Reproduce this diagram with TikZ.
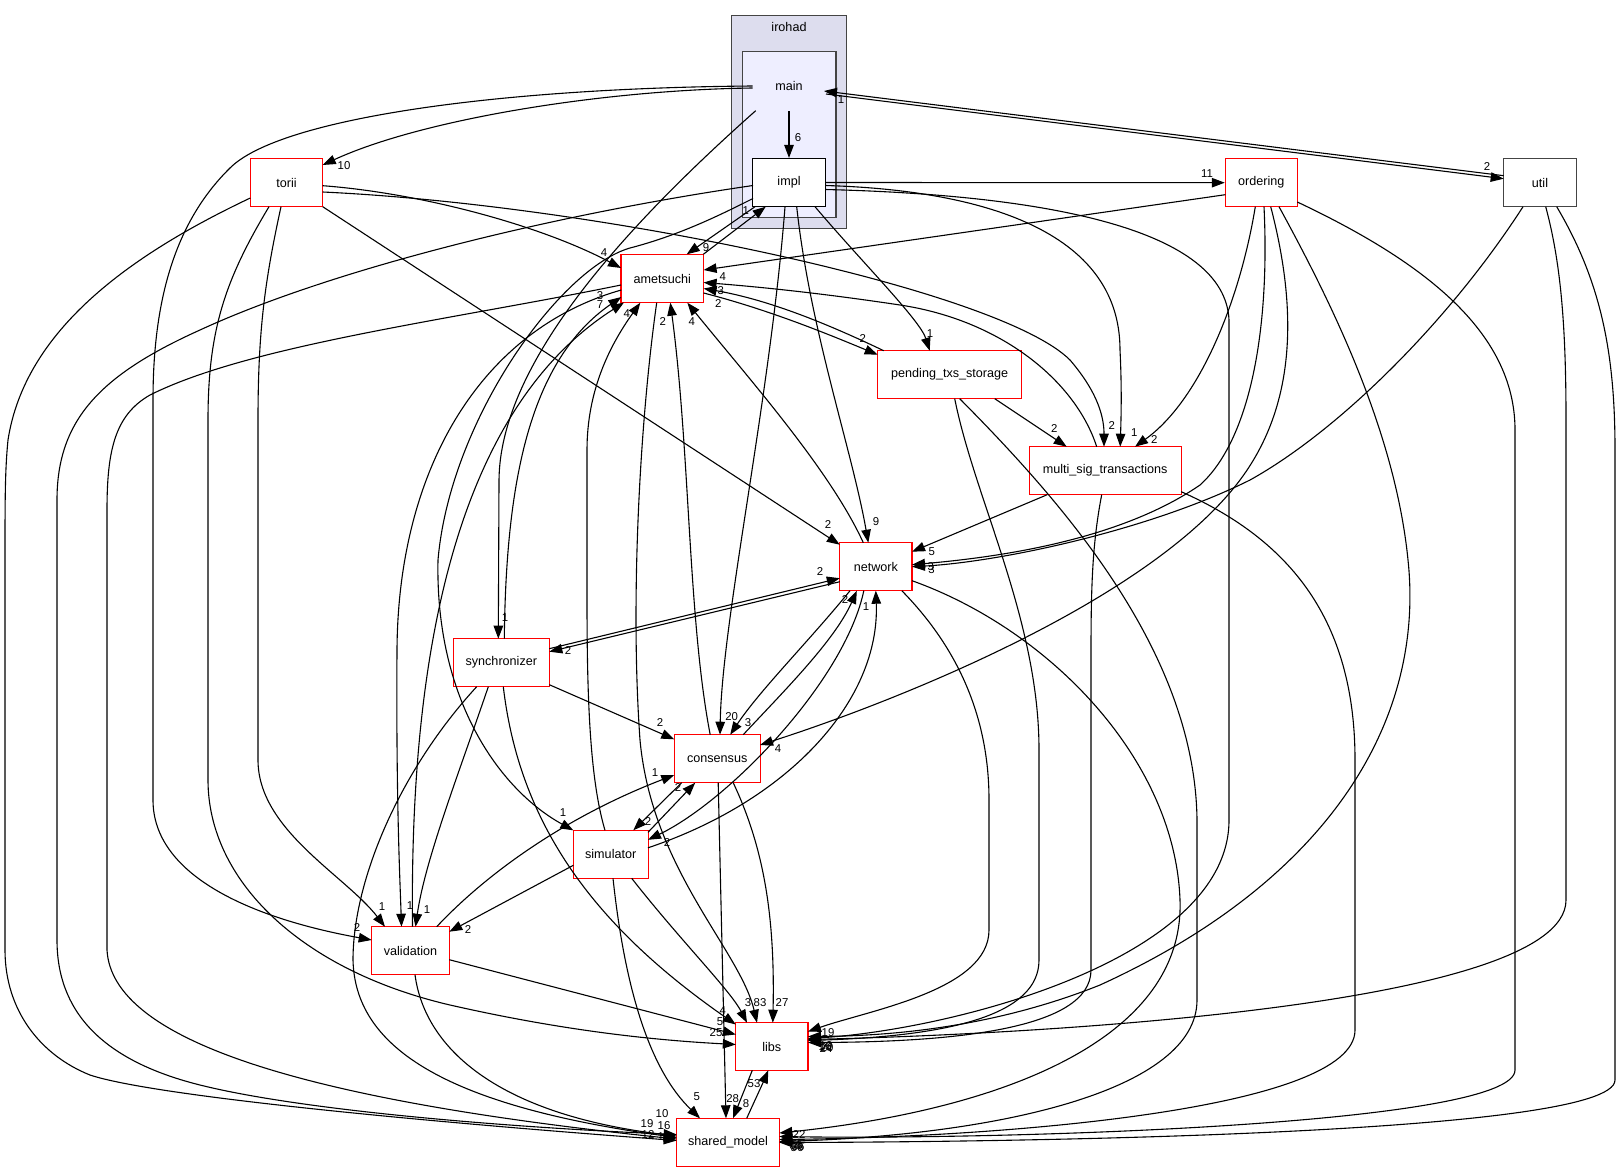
\documentclass[tikz,border=0pt]{standalone}
\usepackage{fontspec}
\setmainfont{Liberation Sans}
\usetikzlibrary{arrows.meta,calc}
\definecolor{clA}{HTML}{DDDDEE}
\definecolor{clB}{HTML}{EEEEFF}
\definecolor{gbord}{HTML}{444444}
\tikzset{
  dirbox/.style={draw=red, line width=1.1pt, fill=white, minimum height=48pt, inner sep=0pt, font=\fontsize{12.6}{15}\selectfont},
  dep/.style={draw=black, line width=1.1pt, -{Triangle[length=13pt,width=9.5pt]}},
  lbl/.style={inner sep=0pt, font=\fontsize{11.4}{13}\selectfont},
}
\begin{document}
\begin{tikzpicture}[x=1pt,y=-1pt]
\useasboundingbox (0,0) rectangle (1621,1172);
\fill[white] (0,0) rectangle (1621,1172);
% clusters
\filldraw[fill=clA, draw=gbord, line width=1.1pt] (731.7,15.7) rectangle (846.7,228.3);
\filldraw[fill=clB, draw=gbord, line width=1.1pt] (742.7,51.7) rectangle (836,217.3);
\node[lbl,font=\fontsize{12.6}{15}\selectfont] (irohadlbl) at (789,27) {irohad};
\node[inner sep=0pt,font=\fontsize{12.6}{15}\selectfont] (main) at (789,86) {main};
% nodes
\node[dirbox,draw=black,minimum width=72.3pt] (impl) at (789,182.5) {impl};
\node[dirbox,minimum width=72.4pt] (torii) at (286.5,182.7) {torii};
\node[dirbox,minimum width=72pt] (ordering) at (1261.3,182.7) {ordering};
\node[dirbox,draw=gbord,minimum width=72.3pt] (util) at (1540,182.7) {util};
\node[dirbox,minimum width=82.7pt] (ametsuchi) at (662.3,278.5) {ametsuchi};
\node[dirbox,minimum width=144pt] (pending) at (949.7,374.7) {pending\_txs\_storage};
\node[dirbox,minimum width=152.3pt] (multisig) at (1105.2,470.7) {multi\_sig\_transactions};
\node[dirbox,minimum width=72.3pt] (network) at (875.8,566.7) {network};
\node[dirbox,minimum width=96pt] (sync) at (501.3,662.7) {synchronizer};
\node[dirbox,minimum width=85.7pt] (consensus) at (717.2,758.7) {consensus};
\node[dirbox,minimum width=74.7pt] (simulator) at (610.7,854.3) {simulator};
\node[dirbox,minimum width=77.6pt] (validation) at (410.5,950.7) {validation};
\node[dirbox,minimum width=72.3pt] (libs) at (771.8,1046.5) {libs};
\node[dirbox,minimum width=102.6pt] (shared) at (728,1142.5) {shared\_model};

% ---------- edges ----------
% main
\draw[dep] ($(main)+(0,25)$) -- (impl.north);
\draw[dep] ($(main)+(37,8)$) -- ($(util)+(-36.3,-4)$);
\draw[dep] ($(util)+(-36.3,-7)$) -- ($(main)+(35,5)$);
\draw[dep] ($(main)+(-36.3,2)$) .. controls (600,90) and (420,120) .. ($(torii)+(36.2,-17.7)$);
\draw[dep] ($(main)+(-36.3,0)$) .. controls (500,88) and (280,118) .. (230,168) .. controls (175,222) and (153,300) .. (153,400) -- (153,800) .. controls (153,875) and (250,918) .. ($(validation)+(-38.8,-10.7)$);
\draw[dep] ($(main)+(-33.3,24.7)$) .. controls (610,240) and (500,370) .. (499,480) -- ($(sync)+(-3,-24)$);
% impl
\draw[dep] (impl.east) -- (ordering.west);
\draw[dep] ($(impl)+(-34,24.2)$) -- ($(ametsuchi)+(24.4,-24.2)$);
\draw[dep] ($(ametsuchi)+(41,-24.2)$) -- ($(impl)+(-23.3,24.2)$);
\draw[dep] ($(impl)+(-36,16)$) .. controls (720,215) and (680,235) .. (630,248) .. controls (560,268) and (450,420) .. (438,560) .. controls (435,700) and (500,790) .. ($(simulator)+(-37.4,-24)$);
\draw[dep] ($(impl)+(-36,3)$) .. controls (550,215) and (330,270) .. (200,330) .. controls (100,375) and (57,420) .. (57,500) -- (57,940) .. controls (57,1010) and (100,1060) .. (200,1085) .. controls (300,1110) and (500,1127) .. ($(shared)+(-51.3,-8)$);
\draw[dep] ($(impl)+(-4,24.2)$) .. controls (770,400) and (722,620) .. ($(consensus)+(2.8,-24)$);
\draw[dep] ($(impl)+(7.7,24.2)$) .. controls (810,330) and (852,450) .. ($(network)+(-7.5,-24)$);
\draw[dep] ($(impl)+(26,24.2)$) .. controls (860,260) and (920,320) .. ($(pending)+(-20,-24)$);
\draw[dep] ($(impl)+(36.3,3)$) .. controls (980,190) and (1120,230) .. (1120,350) .. controls (1122,390) and (1121,420) .. ($(multisig)+(15,-24)$);
\draw[dep] ($(impl)+(36.3,7)$) .. controls (1050,195) and (1225,230) .. (1229,320) -- (1229,820) .. controls (1229,960) and (950,1030) .. ($(libs)+(36.2,-8)$);
% torii
\draw[dep] ($(torii)+(36.2,3)$) .. controls (420,193) and (540,225) .. ($(ametsuchi)+(-41.3,-10.5)$);
\draw[dep] ($(torii)+(36.2,9.3)$) .. controls (600,205) and (1000,290) .. (1070,360) .. controls (1100,395) and (1104,420) .. ($(multisig)+(-1.2,-24)$);
\draw[dep] ($(torii)+(36.2,24)$) -- ($(network)+(-36,-22)$);
\draw[dep] ($(torii)+(-5.5,24)$) .. controls (265,280) and (258,330) .. (258,420) -- (258,760) .. controls (258,830) and (345,875) .. ($(validation)+(-25.5,-24)$);
\draw[dep] ($(torii)+(-17.5,24)$) .. controls (225,280) and (208,330) .. (208,420) -- (208,780) .. controls (208,880) and (300,970) .. (450,1005) .. controls (560,1030) and (650,1040) .. ($(libs)+(-36,-2)$);
\draw[dep] ($(torii)+(-36.2,15.3)$) .. controls (130,255) and (25,330) .. (8,440) .. controls (5,470) and (5,500) .. (5,560) -- (5,950) .. controls (5,1010) and (40,1055) .. (90,1075) .. controls (150,1095) and (400,1120) .. ($(shared)+(-51.3,-2)$);
% ametsuchi
\draw[dep] ($(ametsuchi)+(-41,11.5)$) .. controls (480,330) and (398,470) .. (397,650) .. controls (396,800) and (400,880) .. ($(validation)+(-9,-24)$);
\draw[dep] ($(ametsuchi)+(41.3,14.5)$) .. controls (770,310) and (830,335) .. ($(pending)+(-72,-20)$);
\draw[dep] ($(ametsuchi)+(-41.3,6.5)$) .. controls (450,320) and (250,345) .. (150,395) .. controls (115,415) and (107,450) .. (107,510) -- (107,950) .. controls (112,1040) and (300,1100) .. ($(shared)+(-51.3,-3.5)$);
\draw[dep] ($(ametsuchi)+(-5.6,24.2)$) .. controls (640,420) and (630,600) .. (640,740) .. controls (652,870) and (740,950) .. ($(libs)+(-14.8,-23.8)$);
% synchronizer
\draw[dep] ($(sync)+(3,-24)$) .. controls (506,480) and (530,360) .. ($(ametsuchi)+(-41,18.5)$);
\draw[dep] ($(sync)+(48,-14)$) -- ($(network)+(-36,11.5)$);
\draw[dep] ($(network)+(-36,15)$) -- ($(sync)+(48,-11)$);
\draw[dep] ($(sync)+(48,22)$) -- ($(consensus)+(-42.9,-19.4)$);
\draw[dep] ($(sync)+(-13,24)$) .. controls (460,770) and (425,860) .. ($(validation)+(5,-24)$);
\draw[dep] ($(sync)+(-24.6,24)$) .. controls (400,770) and (353,880) .. (353,960) .. controls (355,1045) and (440,1105) .. ($(shared)+(-51.3,-5)$);
\draw[dep] ($(sync)+(2,24)$) .. controls (520,830) and (600,930) .. ($(libs)+(-36,-22)$);
% validation
\draw[dep] ($(validation)+(2,-24)$) .. controls (410,700) and (440,420) .. ($(ametsuchi)+(-38.3,24)$);
\draw[dep] ($(validation)+(26.2,-24)$) .. controls (490,870) and (570,815) .. ($(consensus)+(-42.9,16.3)$);
\draw[dep] ($(validation)+(38.8,9)$) -- ($(libs)+(-36,-12)$);
\draw[dep] ($(validation)+(4.5,24)$) .. controls (425,1050) and (500,1115) .. ($(shared)+(-51.3,-6.5)$);
% pending
\draw[dep] ($(pending)+(-66,-24)$) .. controls (830,325) and (770,300) .. ($(ametsuchi)+(41.3,10)$);
\draw[dep] ($(pending)+(45,24)$) -- ($(multisig)+(-38.5,-24)$);
\draw[dep] ($(pending)+(5,24)$) .. controls (975,500) and (1039,620) .. (1039,750) -- (1039,960) .. controls (1039,1015) and (950,1036) .. ($(libs)+(36.2,-6)$);
\draw[dep] ($(pending)+(10,24)$) .. controls (1060,500) and (1195,650) .. (1197,820) -- (1197,1000) .. controls (1197,1090) and (1000,1135) .. ($(shared)+(51.3,-1)$);
% multisig
\draw[dep] ($(multisig)+(-8.5,-24)$) .. controls (1075,380) and (1000,320) .. (900,305) .. controls (820,293) and (760,287) .. ($(ametsuchi)+(41.3,4)$);
\draw[dep] ($(multisig)+(-58,24)$) -- ($(network)+(36.2,-15)$);
\draw[dep] ($(multisig)+(-3.5,24)$) .. controls (1093,540) and (1091,580) .. (1091,650) -- (1091,970) .. controls (1091,1030) and (950,1042) .. ($(libs)+(36.2,-4)$);
\draw[dep] ($(multisig)+(76,21)$) .. controls (1290,540) and (1355,620) .. (1355,760) -- (1355,1030) .. controls (1355,1110) and (1000,1137) .. ($(shared)+(51.3,-3)$);
% ordering
\draw[dep] ($(ordering)+(-36,12)$) -- ($(ametsuchi)+(41.3,-8.5)$);
\draw[dep] ($(ordering)+(-6,24)$) .. controls (1240,300) and (1200,400) .. ($(multisig)+(29.8,-24)$);
\draw[dep] ($(ordering)+(2.7,24)$) .. controls (1270,330) and (1250,440) .. (1200,485) .. controls (1120,540) and (1000,557) .. ($(network)+(36.2,-2)$);
\draw[dep] ($(ordering)+(9.4,24)$) .. controls (1295,300) and (1300,400) .. (1240,480) .. controls (1150,600) and (900,700) .. ($(consensus)+(42.8,-13.7)$);
\draw[dep] ($(ordering)+(17.7,24)$) .. controls (1330,300) and (1395,430) .. (1408,560) .. controls (1425,720) and (1330,880) .. (1100,985) .. controls (1000,1025) and (900,1036) .. ($(libs)+(36.2,-10)$);
\draw[dep] ($(ordering)+(36,19.3)$) .. controls (1420,260) and (1515,330) .. (1515,430) -- (1515,1070) .. controls (1515,1125) and (1000,1140) .. ($(shared)+(51.3,-6)$);
% util
\draw[dep] ($(util)+(-17,24)$) .. controls (1450,320) and (1340,430) .. (1250,480) .. controls (1150,530) and (1000,562) .. ($(network)+(36.2,0)$);
\draw[dep] ($(util)+(5.7,24)$) .. controls (1560,260) and (1566,320) .. (1566,420) -- (1566,900) .. controls (1566,1010) and (1000,1035) .. ($(libs)+(36.2,-7)$);
\draw[dep] ($(util)+(16.7,24)$) .. controls (1600,280) and (1615,350) .. (1615,450) -- (1615,1080) .. controls (1615,1135) and (1000,1142) .. ($(shared)+(51.3,0)$);
% network
\draw[dep] ($(network)+(26,24)$) .. controls (960,650) and (989,720) .. (989,800) -- (989,930) .. controls (989,990) and (870,1010) .. ($(libs)+(36.2,-15)$);
\draw[dep] ($(network)+(36.2,14)$) .. controls (1050,630) and (1175,760) .. (1180,900) .. controls (1185,1040) and (1000,1110) .. ($(shared)+(51.3,-9.5)$);
\draw[dep] ($(network)+(-12.5,-24)$) .. controls (830,470) and (750,380) .. ($(ametsuchi)+(25,24.2)$);
\draw[dep] ($(network)+(-25.8,24)$) .. controls (810,640) and (760,690) .. ($(consensus)+(13,-24)$);
\draw[dep] ($(network)+(-12,24)$) .. controls (845,680) and (730,800) .. ($(simulator)+(37.3,-14.5)$);
% consensus
\draw[dep] ($(consensus)+(26,-24)$) .. controls (785,690) and (835,640) .. ($(network)+(-19,24)$);
\draw[dep] ($(consensus)+(-7,-24)$) .. controls (688,620) and (690,450) .. ($(ametsuchi)+(8,24.2)$);
\draw[dep] ($(consensus)+(16,24)$) .. controls (765,850) and (775,920) .. ($(libs)+(1,-23.8)$);
\draw[dep] ($(consensus)+(1,24)$) -- ($(shared)+(-2,-24.2)$);
\draw[dep] ($(consensus)+(-35.5,24)$) -- ($(simulator)+(22.6,-24)$);
% simulator
\draw[dep] ($(simulator)+(37.3,-22)$) -- ($(consensus)+(-22,24)$);
\draw[dep] ($(simulator)+(37.3,-6.5)$) .. controls (790,800) and (880,700) .. ($(network)+(0,24)$);
\draw[dep] ($(simulator)+(-5.7,-24)$) .. controls (590,780) and (587,700) .. (587,600) -- (587,450) .. controls (587,390) and (610,345) .. ($(ametsuchi)+(-22,24.2)$);
\draw[dep] ($(simulator)+(-37.4,11)$) -- ($(validation)+(38.8,-19)$);
\draw[dep] ($(simulator)+(21,24)$) .. controls (680,940) and (730,990) .. ($(libs)+(-24.8,-23.8)$);
\draw[dep] ($(simulator)+(2.3,24)$) .. controls (625,990) and (650,1070) .. ($(shared)+(-28,-24.2)$);
% libs / shared_model
\draw[dep] ($(libs)+(-19.5,23.8)$) -- ($(shared)+(5,-24.2)$);
\draw[dep] ($(shared)+(18.7,-24.2)$) .. controls (755,1100) and (762,1085) .. ($(libs)+(-3.5,23.8)$);

% ---------- labels ----------
\node[lbl] (la1) at (798,138) {6};
\node[lbl] (la2) at (1487,167) {2};
\node[lbl] (la3) at (841,100) {1};
\node[lbl] (la4) at (344,166) {10};
\node[lbl] (la5) at (357,928) {2};
\node[lbl] (la6) at (505,618) {1};
\node[lbl] (la7) at (600,296) {3};
\node[lbl] (la8) at (600,305) {7};
\node[lbl] (la9) at (382,907) {1};
\node[lbl] (la10) at (410,906) {1};
\node[lbl] (la11) at (427,910) {1};
\node[lbl] (la12) at (563,813) {1};
\node[lbl] (la13) at (604,253) {4};
\node[lbl] (la14) at (1111.7,426) {2};
\node[lbl] (la15) at (828,525) {2};
\node[lbl] (la16) at (1207,174) {11};
\node[lbl] (la17) at (706,248) {9};
\node[lbl] (la18) at (745.7,210.7) {1};
\node[lbl] (la19) at (731.7,716.7) {20};
\node[lbl] (la20) at (876,522) {9};
\node[lbl] (la21) at (930,334) {1};
\node[lbl] (la22) at (1134.3,432.7) {1};
\node[lbl] (la23) at (862.7,338.3) {2};
\node[lbl] (la24) at (718.3,303.3) {2};
\node[lbl] (la25) at (720.7,290.7) {3};
\node[lbl] (la26) at (722.7,276.7) {4};
\node[lbl] (la27) at (1054.3,428.3) {2};
\node[lbl] (la28) at (931.7,551.7) {5};
\node[lbl] (la29) at (1154.3,439.3) {2};
\node[lbl] (la30) at (930.7,567) {3};
\node[lbl] (la31) at (931.5,569.5) {3};
\node[lbl] (la32) at (778,748.3) {4};
\node[lbl] (la33) at (691.7,321.7) {4};
\node[lbl] (la34) at (568,651) {2};
\node[lbl] (la35) at (820,572) {2};
\node[lbl] (la36) at (748,723) {3};
\node[lbl] (la37) at (845,600) {2};
\node[lbl] (la38) at (667,843) {2};
\node[lbl] (la39) at (866,607) {1};
\node[lbl] (la40) at (662.7,321.7) {2};
\node[lbl] (la41) at (782,1003) {27};
\node[lbl] (la42) at (732.7,1098.7) {28};
\node[lbl] (la43) at (648,822) {2};
\node[lbl] (la44) at (678,788) {2};
\node[lbl] (la45) at (660,723) {2};
\node[lbl] (la46) at (655,773) {1};
\node[lbl] (la47) at (626.7,313.3) {4};
\node[lbl] (la48) at (468,930) {2};
\node[lbl] (la49) at (748,1003) {3};
\node[lbl] (la50) at (760,1003) {83};
\node[lbl] (la51) at (696.7,1097) {5};
\node[lbl] (la52) at (722.7,1010.7) {4};
\node[lbl] (la53) at (720,1022) {5};
\node[lbl] (la54) at (716,1033) {25};
\node[lbl] (la55) at (746,1104) {8};
\node[lbl] (la56) at (754,1084) {53};
\node[lbl] (la57) at (828,1033) {19};
\node[lbl] (la58) at (826,1046) {10};
\node[lbl] (la59) at (827,1048) {20};
\node[lbl] (la60) at (826,1049) {24};
\node[lbl] (la61) at (825,1047) {16};
\node[lbl] (la62) at (799,1135) {22};
\node[lbl] (la63) at (797,1145) {55};
\node[lbl] (la64) at (798,1147) {36};
\node[lbl] (la65) at (796,1146) {38};
\node[lbl] (la66) at (797,1148) {56};
\node[lbl] (la67) at (662,1114) {10};
\node[lbl] (la68) at (647,1124) {19};
\node[lbl] (la69) at (664,1126) {16};
\node[lbl] (la70) at (648,1135) {12};
\node[lbl] (la71) at (664,1137) {15};
\end{tikzpicture}
\end{document}
